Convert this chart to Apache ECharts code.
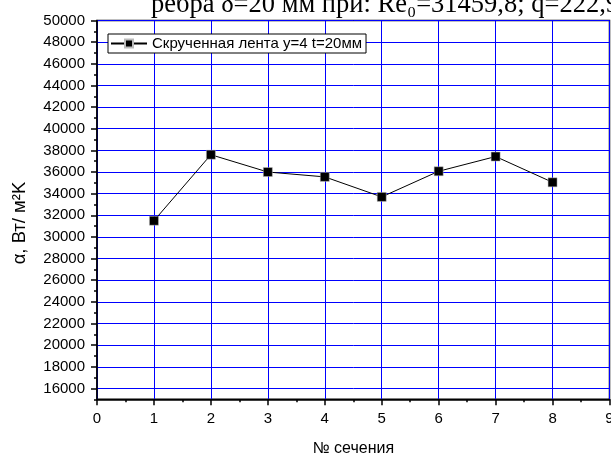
<!DOCTYPE html>
<html><head><meta charset="utf-8">
<script src="https://cdn.jsdelivr.net/npm/echarts@6/dist/echarts.min.js"></script>
<style>html,body{margin:0;padding:0;background:#fff}#c{width:611px;height:454px}</style>
</head><body><div id="c"></div>
<script>
const titleText = 'ребра δ=20 мм при: Re₀=31459,8; q=222,9';
const seriesName = 'Скрученная лента y=4 t=20мм';
const xAxisName = '№ сечения';
const yAxisName = 'α, Вт/ м²K';
const sections = [1, 2, 3, 4, 5, 6, 7, 8];
const alpha = [31500, 37600, 36000, 35550, 33700, 36070, 37430, 35050];
const yMajorTicks = [16000, 18000, 20000, 22000, 24000, 26000, 28000, 30000, 32000, 34000,
  36000, 38000, 40000, 42000, 44000, 46000, 48000, 50000];

const font = 'Liberation Sans';
const chart = echarts.init(document.getElementById('c'), null, {renderer: 'canvas'});
chart.setOption({
  animation: false,
  backgroundColor: '#fff',
  graphic: [{
    type: 'text', left: 151, top: -8, silent: true,
    style: {text: titleText, font: '26.5px "Liberation Serif"', fill: '#000'}
  }, {
    type: 'text', x: 20, y: 223, rotation: Math.PI / 2, silent: true,
    style: {text: yAxisName, font: '18.5px "Liberation Sans"', fill: '#000', align: 'center', verticalAlign: 'middle'}
  }],
  grid: {left: 97, right: 1.5, top: 20.5, bottom: 54.7, show: true, borderColor: '#000', borderWidth: 1.5,
    backgroundColor: 'transparent', outerBoundsMode: 'none', containLabel: false},
  legend: {
    left: 108, top: 34, orient: 'horizontal',
    itemWidth: 36, itemHeight: 10, itemGap: 4,
    padding: [2, 4, 2, 2],
    borderColor: '#000', borderWidth: 1, backgroundColor: '#fff',
    textStyle: {fontFamily: font, fontSize: 15, color: '#000'},
    data: [seriesName]
  },
  xAxis: {
    type: 'value', min: 0, max: 9, interval: 1,
    name: xAxisName, nameLocation: 'middle', nameGap: 41,
    nameTextStyle: {fontFamily: font, fontSize: 16, color: '#000'},
    axisLine: {show: true, lineStyle: {color: '#000', width: 1.5}},
    axisTick: {show: true, inside: false, length: 6, lineStyle: {color: '#000', width: 1.5}},
    minorTick: {show: true, splitNumber: 2, length: 3, lineStyle: {color: '#000', width: 1.5}},
    axisLabel: {fontFamily: font, fontSize: 15, color: '#000', margin: 12},
    splitLine: {show: true, lineStyle: {color: '#0000ff', width: 1}}
  },
  yAxis: [{
    type: 'value', min: 15000, max: 50000, interval: 1000, position: 'left',
    axisLine: {show: true, lineStyle: {color: '#000', width: 1.5}},
    axisTick: {show: true, inside: false, length: 3, lineStyle: {color: '#000', width: 1.5}},
    axisLabel: {show: false},
    splitLine: {show: false}
  }, {
    type: 'value', min: 15000, max: 50000, interval: 1000, position: 'left', offset: 0,
    axisLine: {show: false},
    axisTick: {show: true, inside: false, length: 6, customValues: yMajorTicks, lineStyle: {color: '#000', width: 1.5}},
    axisLabel: {fontFamily: font, fontSize: 15, color: '#000', margin: 12, customValues: yMajorTicks,
      formatter: v => String(v)},
    splitLine: {show: true, lineStyle: {color: '#0000ff', width: 1}}
  }],
  series: [{
    name: seriesName, type: 'line', yAxisIndex: 1,
    data: sections.map((s, i) => [s, alpha[i]]),
    symbol: 'rect', symbolSize: 9,
    lineStyle: {color: '#000', width: 1},
    itemStyle: {color: '#000', borderColor: '#bbb', borderWidth: 0.5}
  }]
});
</script></body></html>
